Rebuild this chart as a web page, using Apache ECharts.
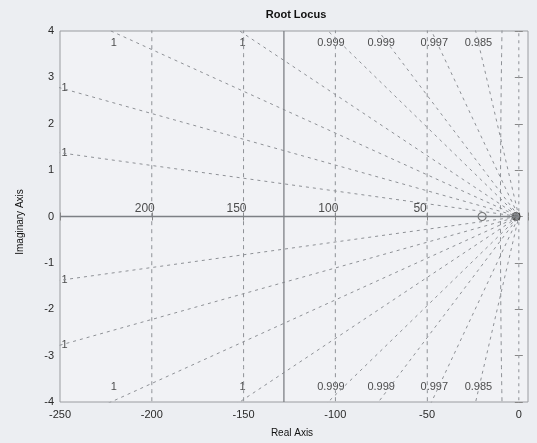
<!DOCTYPE html>
<html><head><meta charset="utf-8">
<script src="https://cdn.jsdelivr.net/npm/echarts@6/dist/echarts.min.js"></script>
<style>html,body{margin:0;padding:0;background:#eceef2}#c{width:537px;height:443px}</style>
</head><body><div id="c"></div>
<script>
// ---- data ----
const xRange = [-250, 5];
const yRange = [-4, 4];
const dampSlopes = [0.0055, 0.0111, 0.0180, 0.0263, 0.0385, 0.0523, 0.0841, 0.170]; // imag/real of each damping ray
const dampLabels = ['1', '1', '1', '1', '0.999', '0.999', '0.997', '0.985'];
const wnValues = [200, 150, 100, 50, 10];
const wnLabels = ['200', '150', '100', '50', ''];
const locusReal = [[-250, 0], [0, 0]];
const locusVert = [[-128, -4], [-128, 4]];
const zerosPts = [[-20, 0]];
const polesPts = [[-1.5, 0]];

const FONT = 'Liberation Sans, Arial, sans-serif';
const GRIDC = '#8e9196';
const chart = echarts.init(document.getElementById('c'));

const series = [];
// damping rays (through origin, clipped by the grid)
dampSlopes.forEach(s => {
  series.push({type: 'line', silent: true, symbol: 'none', clip: true,
    data: [[-1000, 1000 * s], [0, 0], [-1000, -1000 * s]],
    lineStyle: {color: GRIDC, width: 1, type: [3, 4]}});
});
// zeta = 0 line (imaginary axis)
series.push({type: 'line', silent: true, symbol: 'none', clip: true,
  data: [[0, -10], [0, 10]], lineStyle: {color: GRIDC, width: 1, type: [3, 4]}});
// natural frequency circles
wnValues.forEach(wn => {
  const pts = [];
  for (let y = -4.5; y <= 4.501; y += 0.25) pts.push([-Math.sqrt(wn * wn - y * y), y]);
  series.push({type: 'line', silent: true, symbol: 'none', clip: true, data: pts,
    lineStyle: {color: GRIDC, width: 1, type: [4, 4]}});
});
// locus branches
[locusReal, locusVert].forEach(d => series.push({type: 'line', silent: true, symbol: 'none', clip: true,
  data: d, lineStyle: {color: '#7d8085', width: 1.3}}));
// damping labels
const dl = [];
dampSlopes.forEach((s, i) => {
  const xc = -4 / s;
  if (xc >= -250) {
    dl.push({value: [xc + 1.5, 3.74], name: dampLabels[i]});
    dl.push({value: [xc + 1.5, -3.68], name: dampLabels[i]});
  } else {
    dl.push({value: [-247.5, 250 * s], name: dampLabels[i]});
    dl.push({value: [-247.5, -250 * s], name: dampLabels[i]});
  }
});
series.push({type: 'scatter', silent: true, symbolSize: 0, data: dl,
  label: {show: true, position: 'inside', formatter: p => p.name, color: '#222', fontSize: 11, fontFamily: FONT}});
// wn labels
series.push({type: 'scatter', silent: true, symbolSize: 0,
  data: wnValues.map((w, i) => ({value: [-w, 0], name: wnLabels[i]})),
  label: {show: true, position: 'inside', offset: [-7, -8], formatter: p => p.name, color: '#222', fontSize: 12, fontFamily: FONT}});
// zeros / poles
series.push({type: 'scatter', silent: true, symbol: 'circle', symbolSize: 8, data: zerosPts,
  itemStyle: {color: 'rgba(0,0,0,0)', borderColor: '#555', borderWidth: 1.2}});
series.push({type: 'scatter', silent: true, symbol: 'circle', symbolSize: 9, data: polesPts,
  itemStyle: {color: '#2a2a2a'}});

const axisCommon = {
  axisLine: {show: false}, splitLine: {show: false},
  axisTick: {show: true, inside: true, length: 4, lineStyle: {color: '#888'}}
};
chart.setOption({
  animation: false,
  backgroundColor: '#eceef2',
  grid: {left: 60, right: 9, top: 31, bottom: 41, show: true, borderColor: '#9a9ca0', borderWidth: 1, backgroundColor: '#f1f2f5'},
  xAxis: [
    Object.assign({type: 'value', min: xRange[0], max: xRange[1], interval: 50, position: 'bottom',
      axisLabel: {color: '#2a2a2a', fontSize: 11, fontFamily: FONT, margin: 7,
        formatter: v => (v % 50 === 0 ? String(v) : '')}}, axisCommon),
    Object.assign({type: 'value', min: xRange[0], max: xRange[1], interval: 50, position: 'top',
      axisLabel: {show: false}}, axisCommon)
  ],
  yAxis: [
    Object.assign({type: 'value', min: yRange[0], max: yRange[1], interval: 1, position: 'left',
      axisLabel: {color: '#2a2a2a', fontSize: 11, fontFamily: FONT, margin: 6}}, axisCommon),
    Object.assign({type: 'value', min: yRange[0], max: yRange[1], interval: 1, position: 'right',
      axisLabel: {show: false}}, axisCommon)
  ],
  graphic: [
    {type: 'text', style: {text: 'Root Locus', x: 296, y: 15, textAlign: 'center', textVerticalAlign: 'middle', fontSize: 11, fontWeight: 'bold', fontFamily: FONT, fill: '#111'}},
    {type: 'text', style: {text: 'Real Axis', x: 292, y: 433, textAlign: 'center', textVerticalAlign: 'middle', fontSize: 10, fontFamily: FONT, fill: '#111'}},
    {type: 'text', x: 20, y: 222, rotation: Math.PI / 2, style: {text: 'Imaginary Axis', x: 0, y: 0, textAlign: 'center', textVerticalAlign: 'middle', fontSize: 10, fontFamily: FONT, fill: '#111'}}
  ],
  series: series
});
</script></body></html>
